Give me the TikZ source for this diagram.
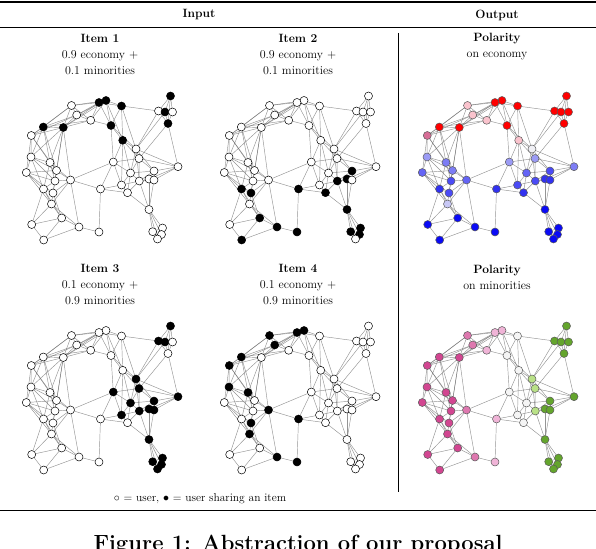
\documentclass[tikz,border=0pt]{standalone}
\usepackage{amsmath,amssymb}
\usepackage{xcolor}
\usetikzlibrary{positioning,backgrounds}

\definecolor{ecoR}{RGB}{255,0,0}
\definecolor{ecoP}{RGB}{250,195,205}
\definecolor{ecoRose}{RGB}{215,110,150}
\definecolor{ecoW}{RGB}{240,240,245}
\definecolor{ecoBa}{RGB}{200,200,245}
\definecolor{ecoBb}{RGB}{155,155,245}
\definecolor{ecoBc}{RGB}{125,125,245}
\definecolor{ecoBd}{RGB}{100,100,245}
\definecolor{ecoBe}{RGB}{75,75,245}
\definecolor{ecoBf}{RGB}{50,50,240}
\definecolor{ecoBg}{RGB}{10,10,245}
\definecolor{minMa}{RGB}{210,70,145}
\definecolor{minMb}{RGB}{222,120,175}
\definecolor{minMc}{RGB}{240,180,215}
\definecolor{minW}{RGB}{245,245,245}
\definecolor{minGa}{RGB}{185,225,135}
\definecolor{minGb}{RGB}{100,165,45}

% id/x/y/item1/item2/item3/item4/economy/minorities
\newcommand{\usertab}{%
1/170.5/96/black/white/black/white/ecoR/minGb,
2/158.5/111/white/white/black/white/ecoR/minGb,
3/165/112/black/white/black/white/ecoR/minGb,
4/172.5/112/white/white/white/white/ecoR/minGb,
5/168/123.5/black/white/white/white/ecoR/minGb,
6/121.5/106/black/white/white/white/ecoR/minW,
7/106/100.5/black/white/white/black/ecoR/minMc,
8/99/102.5/black/white/white/black/ecoR/minMc,
9/71.5/105.5/white/white/white/black/ecoP/minMb,
10/76.7/115/white/white/white/black/ecoP/minMb,
11/90.7/120.3/white/white/white/white/ecoP/minMc,
12/111/125.5/black/white/white/white/ecoR/minW,
13/43.3/127/black/white/white/black/ecoR/minMa,
14/63.3/127.5/black/white/white/white/ecoR/minMa,
15/31.3/135.5/white/white/white/black/ecoRose/minMa,
16/122.7/140.3/black/white/white/white/ecoP/minW,
17/136/149/white/white/black/white/ecoW/minGa,
18/31/157/white/white/white/black/ecoBb/minMa,
19/50/162.5/white/white/white/black/ecoBc/minMa,
20/113.3/162/white/white/black/white/ecoBb/minW,
21/139/158.5/white/white/black/white/ecoBb/minGa,
22/178/166.7/white/white/black/white/ecoBc/minGb,
23/26.3/172.5/white/white/white/white/ecoBd/minMa,
24/56.5/170.5/white/white/white/white/ecoBc/minMa,
25/55/181/white/white/white/white/ecoBe/minMa,
26/70.5/180/white/white/white/black/ecoBd/minMb,
27/130.5/173/white/white/black/white/ecoBd/minW,
28/154/171/white/black/black/white/ecoBe/minGb,
29/43.5/189/white/black/white/white/ecoBf/minMa,
30/53/193/white/black/white/black/ecoBe/minMa,
31/100.5/189/white/black/white/black/ecoBf/minMc,
32/121.5/185/white/white/black/white/ecoBe/minW,
33/139.3/181/white/black/black/white/ecoBe/minGa,
34/149/179/white/black/black/white/ecoBf/minGb,
35/127.5/192.7/white/black/white/white/ecoBf/minW,
36/51.5/204/white/white/white/black/ecoBa/minMa,
37/149/209.5/white/black/black/white/ecoBg/minGb,
38/61.7/218/white/black/white/white/ecoBg/minMa,
39/31.7/224.5/white/white/white/white/ecoBg/minMa,
40/79/227/white/black/white/black/ecoBg/minMb,
41/99/232/white/black/white/black/ecoBg/minMc,
42/43.7/240/white/black/white/white/ecoBg/minMa,
43/152.7/231.7/white/black/black/white/ecoBg/minGb,
44/162.5/228/white/black/black/white/ecoBg/minGb,
45/161.5/234.5/white/black/black/white/ecoBg/minGb,
46/157.5/239/white/white/black/white/ecoBg/minGb,
47/154/180/white/white/black/white/ecoBf/minGb}

\newcommand{\linktab}{%
1/2,1/3,1/4,1/5,2/3,3/4,2/5,3/5,4/5,2/6,2/17,3/17,5/22,5/21,
6/7,6/8,7/8,8/9,7/9,9/10,10/11,8/11,7/11,8/10,9/13,9/14,10/13,10/14,
11/14,13/14,11/13,8/14,7/14,6/12,7/12,8/12,12/16,6/16,6/17,7/16,12/17,
11/12,9/11,7/10,
13/15,13/18,14/15,14/18,13/19,14/19,15/18,14/24,14/26,13/24,15/19,18/19,
18/23,18/24,18/25,19/24,19/25,23/24,23/25,23/29,23/30,19/29,24/25,24/26,
25/26,25/29,25/30,29/30,29/36,30/36,24/30,26/30,26/36,29/38,36/38,36/39,
29/39,38/39,39/42,38/42,36/40,38/40,40/42,40/41,30/38,26/40,23/36,18/29,
15/23,15/24,9/15,10/15,14/25,19/26,
26/31,26/20,31/32,31/20,31/41,31/35,20/16,16/17,17/21,17/27,16/21,16/27,
20/21,20/27,20/32,21/27,21/28,21/33,21/22,17/22,17/28,22/28,22/34,27/28,
27/33,27/32,27/35,32/33,32/35,33/34,33/35,28/34,28/47,34/47,33/47,28/33,
34/37,35/37,33/37,47/37,37/43,37/44,37/45,37/46,43/44,43/45,44/45,45/46,
43/46,44/46,12/20,16/32,22/47,17/33}

\begin{document}
\begin{tikzpicture}[x=1pt,y=-1pt,
  user/.style={circle,draw=black,line width=0.5pt,minimum size=8pt,inner sep=0pt},
  pole/.style={circle,draw=black!65,line width=0.5pt,minimum size=8pt,inner sep=0pt},
  link/.style={draw=black!60,line width=0.45pt,opacity=0.7},
  rule/.style={line width=0.8pt},
  head/.style={font=\fontsize{12}{16}\selectfont,align=center,inner sep=0pt}]
\useasboundingbox (0,0) rectangle (596,548);

% table rules
\draw[line width=1.4pt] (0,2) -- (596,2);
\draw[rule] (0,27.5) -- (596,27.5);
\draw[line width=1.4pt] (0,510.5) -- (596,510.5);
\draw[rule] (398,33) -- (398,492);

\node[head,font=\fontsize{12}{16}\selectfont\bfseries] (hin) at (199,15) {Input};
\node[head,font=\fontsize{12}{16}\selectfont\bfseries] (hout) at (497,15) {Output};

\node[head] (it1) at (100,55) {\textbf{Item 1}\\0.9 economy +\\0.1 minorities};
\node[head] (it2) at (298,55) {\textbf{Item 2}\\0.9 economy +\\0.1 minorities};
\node[head] (pol1) at (497,47) {\textbf{Polarity}\\on economy};
\node[head] (it3) at (100,285) {\textbf{Item 3}\\0.1 economy +\\0.9 minorities};
\node[head] (it4) at (298,285) {\textbf{Item 4}\\0.1 economy +\\0.9 minorities};
\node[head] (pol2) at (497,277) {\textbf{Polarity}\\on minorities};

\node[font=\fontsize{11.5}{13}\selectfont,inner sep=0pt] (key) at (200,499)
  {$\circ$ = user, $\bullet$ = user sharing an item};
\node[font=\fontsize{22}{26}\selectfont\bfseries,anchor=base,inner sep=0pt] (cap) at (298,550.5)
  {Figure 1: Abstraction of our proposal};

% users, six panels
\foreach \i/\x/\y/\ca/\cb/\cc/\cd/\ce/\cf in \usertab {
  \node[user,fill=\ca] (A\i) at (\x,\y) {};
  \node[user,fill=\cb] (B\i) at (\x+198,\y) {};
  \node[user,fill=\cc] (C\i) at (\x,\y+230) {};
  \node[user,fill=\cd] (D\i) at (\x+198,\y+230) {};
  \node[pole,fill=\ce] (E\i) at (\x+396,\y) {};
  \node[pole,fill=\cf] (F\i) at (\x+396,\y+230) {};
}

% friendships
\begin{scope}[on background layer]
\foreach \a/\b in \linktab
  \foreach \p in {A,B,C,D,E,F}
    \draw[link] (\p\a) -- (\p\b);
\end{scope}
\end{tikzpicture}
\end{document}
